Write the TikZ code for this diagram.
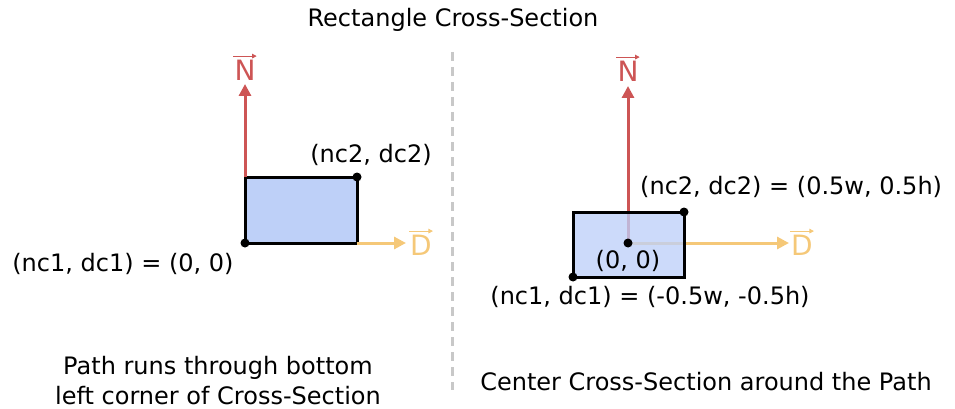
\documentclass[tikz,border=0pt]{standalone}
\usepackage{fontspec}
\setmainfont{DejaVu Sans}
\usetikzlibrary{arrows.meta}
\definecolor{nred}{RGB}{205,85,85}
\definecolor{dyel}{RGB}{245,200,120}
\definecolor{bfill}{RGB}{190,208,248}
\definecolor{dgray}{RGB}{200,200,200}
\tikzset{
  vecarrow/.style={line width=3pt,-{Triangle[length=12pt,width=12pt]}},
  vecsmall/.style={line width=1pt,-{Triangle[length=4.5pt,width=4.5pt]}},
  dotpt/.style={circle,fill=black,inner sep=0pt,minimum size=9pt},
  txt/.style={font=\fontsize{24}{30}\selectfont,inner sep=0pt},
  vlab/.style={font=\fontsize{28}{30}\selectfont,inner sep=0pt},
  xsec/.style={draw=black,line width=3pt,fill=bfill}
}
\begin{document}
\begin{tikzpicture}[x=1pt,y=-1pt]
\useasboundingbox (0,0) rectangle (955,409);
% title
\node[txt] (title) at (453,20) {Rectangle Cross-Section};
% divider
\coordinate (dtop) at (452,52);
\coordinate (dbot) at (452,390);
\draw[dgray,line width=3pt,dash pattern=on 9pt off 6pt] (dtop) -- (dbot);
% ---------- left panel ----------
\coordinate (Lo) at (245,243);
\coordinate (Lc2) at (357,177);
\coordinate (LNtip) at (245,84);
\coordinate (LDtip) at (406,243);
\draw[xsec] (Lo) rectangle (Lc2);
\draw[vecarrow,nred] (245,177) -- (LNtip);
\draw[vecarrow,dyel] (357,243) -- (LDtip);
\node[dotpt] (Ld1) at (Lo) {};
\node[dotpt] (Ld2) at (Lc2) {};
\node[vlab,text=nred] (LN) at (245,70) {N};
\draw[vecsmall,nred] ([xshift=-1pt,yshift=3.5pt]LN.north west) -- ([xshift=1pt,yshift=3.5pt]LN.north east);
\node[vlab,text=dyel] (LD) at (421,245) {D};
\draw[vecsmall,dyel] ([xshift=-1pt,yshift=3.5pt]LD.north west) -- ([xshift=1pt,yshift=3.5pt]LD.north east);
\node[txt] (Lt2) at (371,155) {(nc2, dc2)};
\node[txt] (Lt1) at (123,264) {(nc1, dc1) = (0, 0)};
\node[txt,align=center] (Lcap) at (218,381) {Path runs through bottom\\ left corner of Cross-Section};
% ---------- right panel ----------
\coordinate (Ro) at (628,243);
\coordinate (Rc1) at (573,277);
\coordinate (Rc2) at (684,212);
\coordinate (RNtip) at (628,86);
\coordinate (RDtip) at (789,243);
\draw[vecarrow,nred] (Ro) -- (RNtip);
\draw[vecarrow,dyel] (Ro) -- (RDtip);
\fill[bfill,fill opacity=0.78] (Rc1) rectangle (Rc2);
\draw[black,line width=3pt] (Rc1) rectangle (Rc2);
\node[dotpt] (Rd0) at (Ro) {};
\node[dotpt] (Rd1) at (Rc1) {};
\node[dotpt] (Rd2) at (Rc2) {};
\node[vlab,text=nred] (RN) at (628,71) {N};
\draw[vecsmall,nred] ([xshift=-1pt,yshift=3.5pt]RN.north west) -- ([xshift=1pt,yshift=3.5pt]RN.north east);
\node[vlab,text=dyel] (RD) at (802,245) {D};
\draw[vecsmall,dyel] ([xshift=-1pt,yshift=3.5pt]RD.north west) -- ([xshift=1pt,yshift=3.5pt]RD.north east);
\node[txt] (R0) at (628,261) {(0, 0)};
\node[txt,anchor=west] (Rt2) at (640,187) {(nc2, dc2) = (0.5w, 0.5h)};
\node[txt] (Rt1) at (650,297) {(nc1, dc1) = (-0.5w, -0.5h)};
\node[txt] (Rcap) at (706,382) {Center Cross-Section around the Path};
\end{tikzpicture}
\end{document}
